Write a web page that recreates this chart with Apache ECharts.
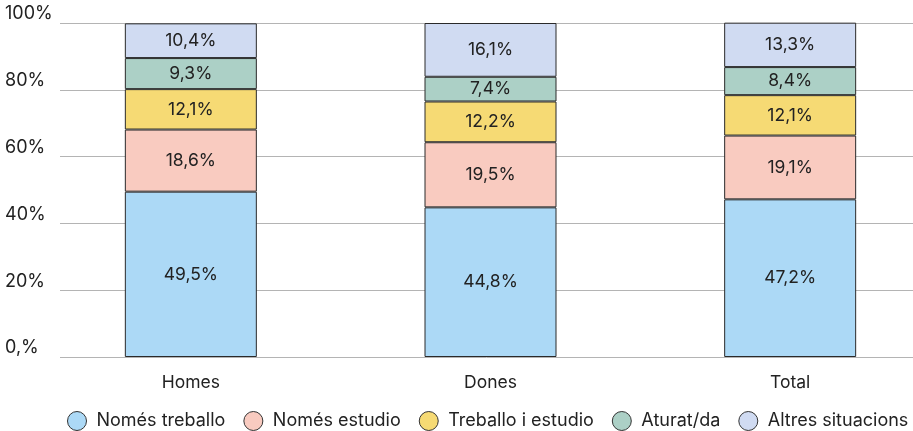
<!DOCTYPE html>
<html>
<head>
<meta charset="utf-8">
<script src="https://cdn.jsdelivr.net/npm/echarts@6/dist/echarts.min.js"></script>
<style>
  html, body { margin: 0; padding: 0; background: #fff; }
  #chart { width: 913px; height: 431px; }
</style>
</head>
<body>
<div id="chart"></div>
<script>
const categories = ['Homes', 'Dones', 'Total']
const seriesNames = ['Només treballo', 'Només estudio', 'Treballo i estudio', 'Aturat/da', 'Altres situacions']
const nomesTreballo = [49.5, 44.8, 47.2]
const nomesEstudio = [18.6, 19.5, 19.1]
const treballoEstudio = [12.1, 12.2, 12.1]
const aturat = [9.3, 7.4, 8.4]
const altres = [10.4, 16.1, 13.3]
const yTicks = [0, 20, 40, 60, 80, 100]

const colors = ['#acd9f6', '#f9cbc0', '#f6da74', '#acd0c6', '#d0dbf2']
const seriesData = [nomesTreballo, nomesEstudio, treballoEstudio, aturat, altres]
const fontName = 'Inter'

let chart = echarts.init(document.getElementById('chart'))

let series = seriesNames.map(function (name, i) {
  return {
    name: name,
    type: 'bar',
    stack: 'total',
    xAxisIndex: 1,
    yAxisIndex: 1,
    barWidth: 132,
    data: seriesData[i],
    itemStyle: {
      color: colors[i],
      borderColor: '#2a2a2a',
      borderWidth: 1,
    },
    label: {
      show: true,
      position: 'inside',
      color: '#222',
      fontSize: 17.5,
      fontFamily: fontName,
      formatter: function (p) {
        return String(p.value).replace('.', ',') + '%'
      },
    },
  }
})

let option = {
  animation: false,
  color: colors,
  grid: [
    // gridlines + y labels
    { left: 60, right: 0, top: 23, bottom: 74 },
    // bars: the bands run past the right edge, like the original
    { left: 41, width: 899, top: 23, bottom: 74, outerBoundsMode: 'none' },
  ],
  legend: {
    data: seriesNames,
    top: 411,
    left: 67,
    padding: 0,
    icon: 'circle',
    itemWidth: 19,
    itemHeight: 19,
    itemGap: 18,
    itemStyle: {
      borderColor: '#333',
      borderWidth: 1,
    },
    textStyle: {
      color: '#222',
      fontSize: 18,
      fontFamily: fontName,
      padding: [0, 0, 0, 5],
    },
  },
  xAxis: [
    {
      gridIndex: 0,
      type: 'category',
      data: categories,
      show: false,
    },
    {
      gridIndex: 1,
      type: 'category',
      data: categories,
      axisLine: { show: false },
      axisTick: { show: false },
      axisLabel: {
        margin: 17,
        color: '#222',
        fontSize: 17.5,
        fontFamily: fontName,
      },
    },
  ],
  yAxis: [
    {
      gridIndex: 0,
      type: 'value',
      min: 0,
      max: 100,
      interval: 20,
      axisLine: { show: false },
      axisTick: { show: false },
      splitLine: {
        show: true,
        lineStyle: { color: '#b4b4b4', width: 1 },
      },
      axisLabel: {
        align: 'left',
        margin: 55,
        color: '#222',
        fontSize: 18,
        fontFamily: fontName,
        verticalAlign: 'bottom',
        formatter: function (v) {
          return v === yTicks[0] ? '0,%' : v + '%'
        },
      },
    },
    {
      gridIndex: 1,
      type: 'value',
      min: 0,
      max: 100,
      show: false,
    },
  ],
  series: series,
}
chart.setOption(option)
</script>
</body>
</html>
